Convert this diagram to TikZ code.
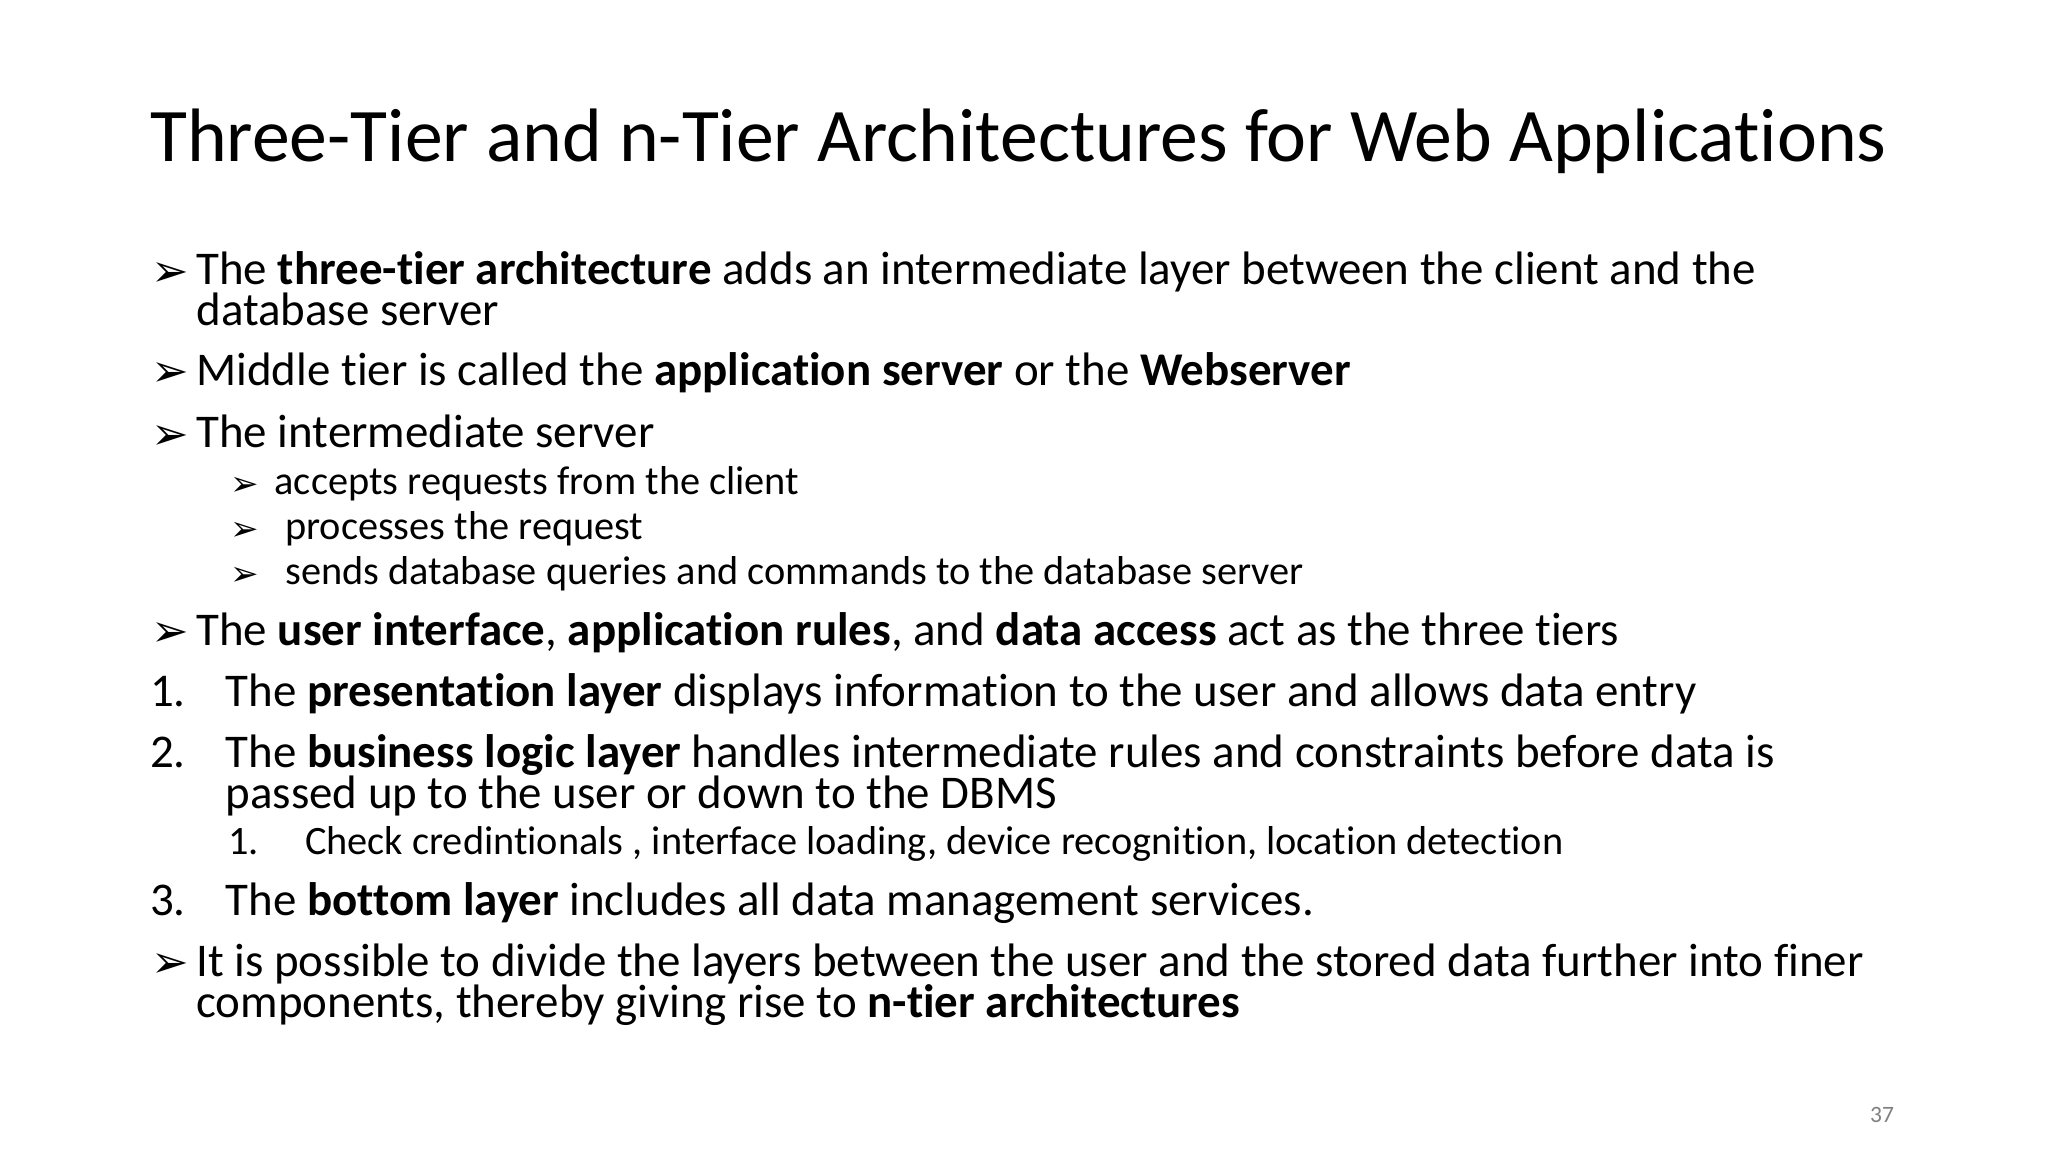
\documentclass[tikz,border=0pt]{standalone}
\usepackage{fontspec}
\setmainfont[RawFeature=-liga]{Carlito}
\newfontfamily\dv{DejaVu Sans}
\begin{document}
\begin{tikzpicture}[x=0.6210pt,y=-0.6210pt,
  t/.style={anchor=base west,inner sep=0pt,font=\fontsize{22}{22}\selectfont},
  s/.style={anchor=base west,inner sep=0pt,font=\fontsize{18.9}{19}\selectfont},
  bl/.style={anchor=base west,inner sep=0pt,font=\dv\bfseries\fontsize{21}{21}\selectfont},
  sbl/.style={anchor=base west,inner sep=0pt,font=\dv\bfseries\fontsize{16}{16}\selectfont}]
\fill[white] (0,0) rectangle (1546,870);
\node[anchor=base west,inner sep=0pt,font=\fontsize{35.5}{36}\selectfont] (title) at (113,122) {Three-Tier and n-Tier Architectures for Web Applications};
\node[bl] (b1) at (114,216) {➢};
\node[t] (l1) at (148,215) {The \textbf{three-tier architecture} adds an intermediate layer between the client and the};
\node[t] (l1b) at (148,246) {database server};
\node[bl] (b2) at (114,292) {➢};
\node[t] (l2) at (148,291) {Middle tier is called the \textbf{application server} or the \textbf{Webserver}};
\node[bl] (b3) at (114,339) {➢};
\node[t] (l3) at (148,338) {The intermediate server};
\node[sbl] (s1b) at (174,374) {➢};
\node[s] (s1) at (207,373) {accepts requests from the client};
\node[sbl] (s2b) at (174,408) {➢};
\node[s] (s2) at (215,407) {processes the request};
\node[sbl] (s3b) at (174,442) {➢};
\node[s] (s3) at (215,441) {sends database queries and commands to the database server};
\node[bl] (b4) at (114,488) {➢};
\node[t] (l4) at (148,487) {The \textbf{user interface}, \textbf{application rules}, and \textbf{data access} act as the three tiers};
\node[t] (n1) at (113,533) {1.};
\node[t] (l5) at (170,533) {The \textbf{presentation layer} displays information to the user and allows data entry};
\node[t] (n2) at (113,579) {2.};
\node[t] (l6) at (170,579) {The \textbf{business logic layer} handles intermediate rules and constraints before data is};
\node[t] (l6b) at (170,610) {passed up to the user or down to the DBMS};
\node[s] (sn1) at (172,645) {1.};
\node[s] (l7) at (230,645) {Check credintionals , interface loading, device recognition, location detection};
\node[t] (n3) at (113,691) {3.};
\node[t] (l8) at (170,691) {The \textbf{bottom layer} includes all data management services.};
\node[bl] (b5) at (114,738) {➢};
\node[t] (l9) at (148,737) {It is possible to divide the layers between the user and the stored data further into finer};
\node[t] (l9b) at (148,768) {components, thereby giving rise to \textbf{n-tier architectures}};
\node[anchor=base east,inner sep=0pt,font=\fontsize{11}{11}\selectfont,text=gray] (pg) at (1430,847) {37};
\end{tikzpicture}
\end{document}
